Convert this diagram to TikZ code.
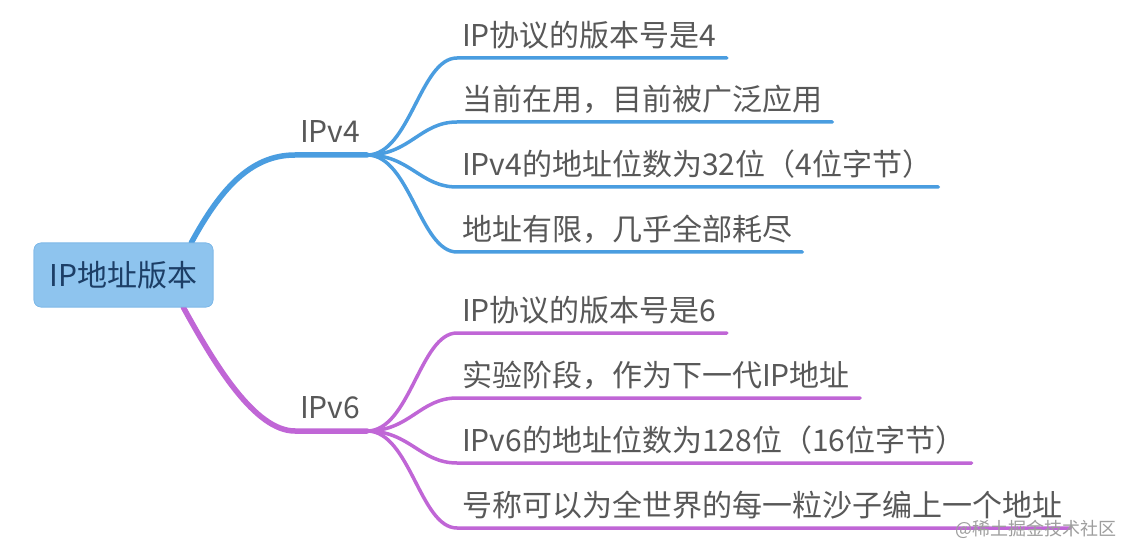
\documentclass[tikz,border=0pt]{standalone}
\usepackage{fontspec}
\newfontfamily\cjk{Noto Sans CJK SC}
\definecolor{bluel}{HTML}{4A9DE0}
\definecolor{purl}{HTML}{C066D6}
\definecolor{rootfill}{HTML}{8EC4EE}
\definecolor{rootdraw}{HTML}{7DB8E8}
\definecolor{roottext}{HTML}{1C3E66}
\definecolor{leaftext}{HTML}{585858}
\begin{document}
\begin{tikzpicture}[x=1pt,y=1pt,
  txt/.style={font=\cjk\fontsize{30}{36}\selectfont, text=leaftext},
  leaf/.style={txt, inner xsep=0pt, inner ysep=0pt, text depth=11.5pt, anchor=south west},
  branchlabel/.style={txt, inner xsep=0pt, inner ysep=0pt, text depth=12pt, anchor=south west},
  rootbox/.style={font=\cjk\fontsize{30}{36}\selectfont, text=roottext, fill=rootfill, draw=rootdraw, line width=0.6pt, rounded corners=7pt, minimum width=179pt, minimum height=64pt, inner sep=0pt},
  mainb/.style={line width=5.5pt, line cap=round},
  subb/.style={line width=3.5pt, line cap=round},
  wm/.style={font=\cjk\fontsize{18}{21}\selectfont, text=black!38, inner sep=0pt, anchor=west}]
\useasboundingbox (0,0) rectangle (1133,-556);
\fill[white] (0,0) rectangle (1133,-556);

% root
\node[rootbox] (root) at (123.5,-275) {IP地址版本};

% branch labels
\node[branchlabel] (v4) at (300,-155) {IPv4};
\node[branchlabel] (v6) at (300,-431) {IPv6};
\coordinate (j4) at (367,-155);
\coordinate (j6) at (367,-431);

% leaves IPv4
\node[leaf] (a1) at (462,-58) {IP协议的版本号是4};
\node[leaf] (a2) at (462,-122) {当前在用，目前被广泛应用};
\node[leaf] (a3) at (462,-187) {IPv4的地址位数为32位（4位字节）};
\node[leaf] (a4) at (462,-252) {地址有限，几乎全部耗尽};
% leaves IPv6
\node[leaf] (b1) at (462,-333) {IP协议的版本号是6};
\node[leaf] (b2) at (462,-398) {实验阶段，作为下一代IP地址};
\node[leaf] (b3) at (462,-463) {IPv6的地址位数为128位（16位字节）};
\node[leaf] (b4) at (462,-528) {号称可以为全世界的每一粒沙子编上一个地址};

% IPv4 connectors
\begin{scope}[draw=bluel]
\draw[subb] (j4) .. controls (410,-155) and (420,-58) .. ([xshift=-5pt]a1.south west) -- ([xshift=10pt]a1.south east);
\draw[subb] (j4) .. controls (410,-155) and (420,-122) .. ([xshift=-5pt]a2.south west) -- ([xshift=10pt]a2.south east);
\draw[subb] (j4) .. controls (410,-155) and (420,-187) .. ([xshift=-5pt]a3.south west) -- ([xshift=6pt]a3.south east);
\draw[subb] (j4) .. controls (410,-155) and (420,-252) .. ([xshift=-5pt]a4.south west) -- ([xshift=10pt]a4.south east);
\draw[mainb] ([xshift=-22pt]root.north east) .. controls (220,-190) and (250,-155) .. ([xshift=-5pt]v4.south west) -- (j4);
\end{scope}

% IPv6 connectors
\begin{scope}[draw=purl]
\draw[subb] (j6) .. controls (410,-431) and (420,-333) .. ([xshift=-5pt]b1.south west) -- ([xshift=10pt]b1.south east);
\draw[subb] (j6) .. controls (410,-431) and (420,-398) .. ([xshift=-5pt]b2.south west) -- ([xshift=10pt]b2.south east);
\draw[subb] (j6) .. controls (410,-431) and (420,-463) .. ([xshift=-5pt]b3.south west) -- ([xshift=6pt]b3.south east);
\draw[subb] (j6) .. controls (410,-431) and (420,-528) .. ([xshift=-5pt]b4.south west) -- ([xshift=8pt]b4.south east);
\draw[mainb] ([xshift=-30pt]root.south east) .. controls (215,-365) and (255,-431) .. ([xshift=-5pt]v6.south west) -- (j6);
\end{scope}

% root on top of branch starts
\node[rootbox] at (root.center) {IP地址版本};

% watermark
\node[wm] (wmk) at (955,-529) {@稀土掘金技术社区};
\end{tikzpicture}
\end{document}
